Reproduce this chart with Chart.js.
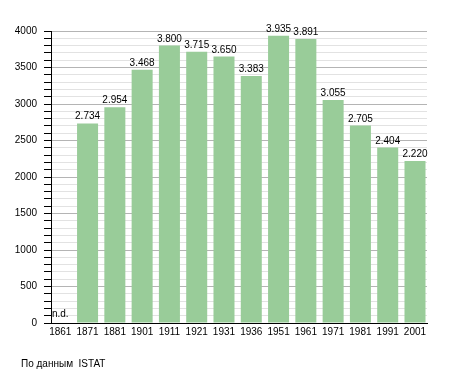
<!DOCTYPE html>
<html>
<head>
<meta charset="utf-8">
<script src="https://cdn.jsdelivr.net/npm/chart.js@4/dist/chart.umd.min.js"></script>
<style>
  html, body { margin: 0; padding: 0; background: #fff; }
  #wrap { width: 455px; height: 373px; }
</style>
</head>
<body>
<div id="wrap"><canvas id="popChart" width="455" height="373"></canvas></div>
<script>
// data
const years = ["1861", "1871", "1881", "1901", "1911", "1921", "1931", "1936", "1951", "1961", "1971", "1981", "1991", "2001"];
const population = [null, 2734, 2954, 3468, 3800, 3715, 3650, 3383, 3935, 3891, 3055, 2705, 2404, 2220];
const yTicks = [0, 500, 1000, 1500, 2000, 2500, 3000, 3500, 4000];
const missingLabel = "n.d.";
const sourceText = "По данным  ISTAT";

const FONT = "'Liberation Sans', Arial, sans-serif";

function fmt(v) {
  return String(v).replace(/\B(?=(\d{3})+(?!\d))/g, ".");
}

// labels above bars, n.d. and source line
const labelPlugin = {
  id: "barLabels",
  afterDatasetsDraw(chart) {
    const ctx = chart.ctx;
    const meta = chart.getDatasetMeta(0);
    const xs = chart.scales.x;
    const ys = chart.scales.y;
    ctx.save();
    ctx.font = "10px " + FONT;
    ctx.fillStyle = "#000";
    ctx.textAlign = "center";
    ctx.textBaseline = "alphabetic";
    meta.data.forEach((bar, i) => {
      const v = population[i];
      if (v == null) {
        ctx.fillText(missingLabel, xs.getPixelForValue(i), ys.getPixelForValue(0) - 6);
      } else {
        ctx.fillText(fmt(v), bar.x, bar.y - 4);
      }
    });
    ctx.textAlign = "left";
    ctx.fillText(sourceText, 21, 367);
    ctx.restore();
  },
};

new Chart(document.getElementById("popChart"), {
  type: "bar",
  data: {
    datasets: [
      {
        data: population.map((v, i) => ({ x: i, y: v })),
        backgroundColor: "#99cc99",
        borderWidth: 0,
        barPercentage: 0.77,
        categoryPercentage: 1,
      },
    ],
  },
  options: {
    responsive: false,
    animation: false,
    layout: { padding: { top: 31, right: 28, left: 0, bottom: 0 } },
    plugins: {
      legend: { display: false },
      tooltip: { enabled: false },
    },
    scales: {
      x: {
        type: "linear",
        offset: false,
        min: -0.34,
        max: 13.44,
        grid: { display: false, drawTicks: false, offset: false },
        border: { display: true, color: "#000", width: 1 },
        afterBuildTicks: (scale) => {
          scale.ticks = years.map((_, i) => ({ value: i }));
        },
        afterFit: (scale) => {
          scale.height = 50;
        },
        ticks: {
          autoSkip: false,
          maxRotation: 0,
          padding: 3,
          color: "#000",
          font: { family: FONT, size: 10 },
          callback: (v) => years[v],
        },
      },
      y: {
        min: 0,
        max: 4000,
        afterFit: (scale) => {
          scale.width = 51;
        },
        grid: {
          color: (c) => (yTicks.includes(c.tick.value) ? "#b4b4b4" : "#e2e2e2"),
          tickColor: "#000",
          tickLength: 7,
          lineWidth: 1,
        },
        border: { display: true, color: "#000", width: 1 },
        ticks: {
          stepSize: 100,
          autoSkip: false,
          padding: 7,
          color: "#000",
          font: { family: FONT, size: 10 },
          callback: (v) => (yTicks.includes(v) ? String(v) : ""),
        },
      },
    },
  },
  plugins: [labelPlugin],
});
</script>
</body>
</html>
